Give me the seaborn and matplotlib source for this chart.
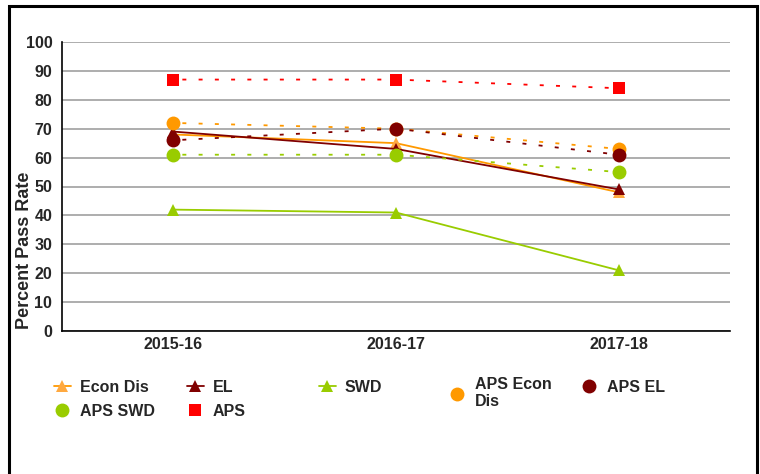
import matplotlib
matplotlib.use('Agg')
import matplotlib.pyplot as plt
import pandas as pd
import seaborn as sns
from matplotlib.patches import Rectangle

# Data
years = ['2015-16', '2016-17', '2017-18']
econ_dis = [68, 65, 48]
el = [69, 63, 49]
swd = [42, 41, 21]
aps_econ_dis = [72, 70, 63]
aps_el = [66, 70, 61]
aps_swd = [61, 61, 55]
aps = [87, 87, 84]

sns.set_theme(style='white')
plt.rcParams['font.family'] = ['Liberation Sans', 'DejaVu Sans']
plt.rcParams['font.weight'] = 'bold'

fig = plt.figure(figsize=(7.6, 4.74), dpi=100)
ax = fig.add_axes([62 / 760, 1 - 331 / 474, (730 - 62) / 760, (331 - 42) / 474])

dash = (4, (2.2, 6.8))
series = [
    # label, values, color, marker, markersize, linestyle
    ('Econ Dis', econ_dis, '#FFA940', '^', 9, '-'),
    ('EL', el, '#800000', '^', 9, '-'),
    ('SWD', swd, '#99CC00', '^', 9, '-'),
    ('APS Econ\nDis', aps_econ_dis, '#FF9900', 'o', 10, dash),
    ('APS EL', aps_el, '#800000', 'o', 10, dash),
    ('APS SWD', aps_swd, '#99CC00', 'o', 10, dash),
    ('APS', aps, '#FF0000', 's', 8, dash),
]

line_colors = {'Econ Dis': '#FF9900'}
handles = {}
for label, vals, color, marker, ms, ls in series:
    df = pd.DataFrame({'year': years, 'rate': vals})
    sns.lineplot(data=df, x='year', y='rate', ax=ax, color=line_colors.get(label, color),
                 linestyle=ls, linewidth=1.3, marker=marker, markersize=ms,
                 markerfacecolor=color, markeredgecolor=color, markeredgewidth=0,
                 sort=False)
    handles[label] = ax.get_lines()[-1]

ax.set_xlim(-0.5, 2.5)
ax.set_ylim(0, 100)
ax.set_yticks(range(0, 101, 10))
ax.yaxis.grid(True, color='#A0A0A0', linewidth=1.2)
ax.xaxis.grid(False)
for side in ['top', 'right']:
    ax.spines[side].set_visible(False)
for side in ['left', 'bottom']:
    ax.spines[side].set_color('black')
    ax.spines[side].set_linewidth(1.2)
ax.tick_params(axis='both', length=0, labelsize=11.5)
ax.tick_params(axis='y', pad=7)
ax.tick_params(axis='x', pad=4)
for t in ax.get_xticklabels() + ax.get_yticklabels():
    t.set_fontweight('bold')
ax.set_xlabel('')
ax.set_ylabel('Percent Pass Rate', fontsize=13, fontweight='bold')
ax.yaxis.set_label_coords(-0.043, 0.28)

# Legend laid out in fixed columns like the original
columns = [
    (54, ['Econ Dis', 'APS SWD']),
    (187, ['EL', 'APS']),
    (319, ['SWD']),
    (449, ['APS Econ\nDis']),
    (581, ['APS EL']),
]
for x0, labels in columns:
    top = 380 if len(labels) > 1 or '\n' not in labels[0] else 377
    leg = fig.legend([handles[l] for l in labels], labels, loc='upper left',
                     bbox_to_anchor=(x0 / 760, 1 - top / 474), frameon=False,
                     borderpad=0, borderaxespad=0, handlelength=1.05,
                     handletextpad=0.55, labelspacing=0.55,
                     prop={'size': 11.5, 'weight': 'bold'})

# Outer chart border
fig.patches.append(Rectangle((9 / 760, -0.05), (757 - 9) / 760, 1.05 - 6 / 474,
                             transform=fig.transFigure, fill=False,
                             edgecolor='black', linewidth=2.2))

fig.savefig('out.png', dpi=100)
